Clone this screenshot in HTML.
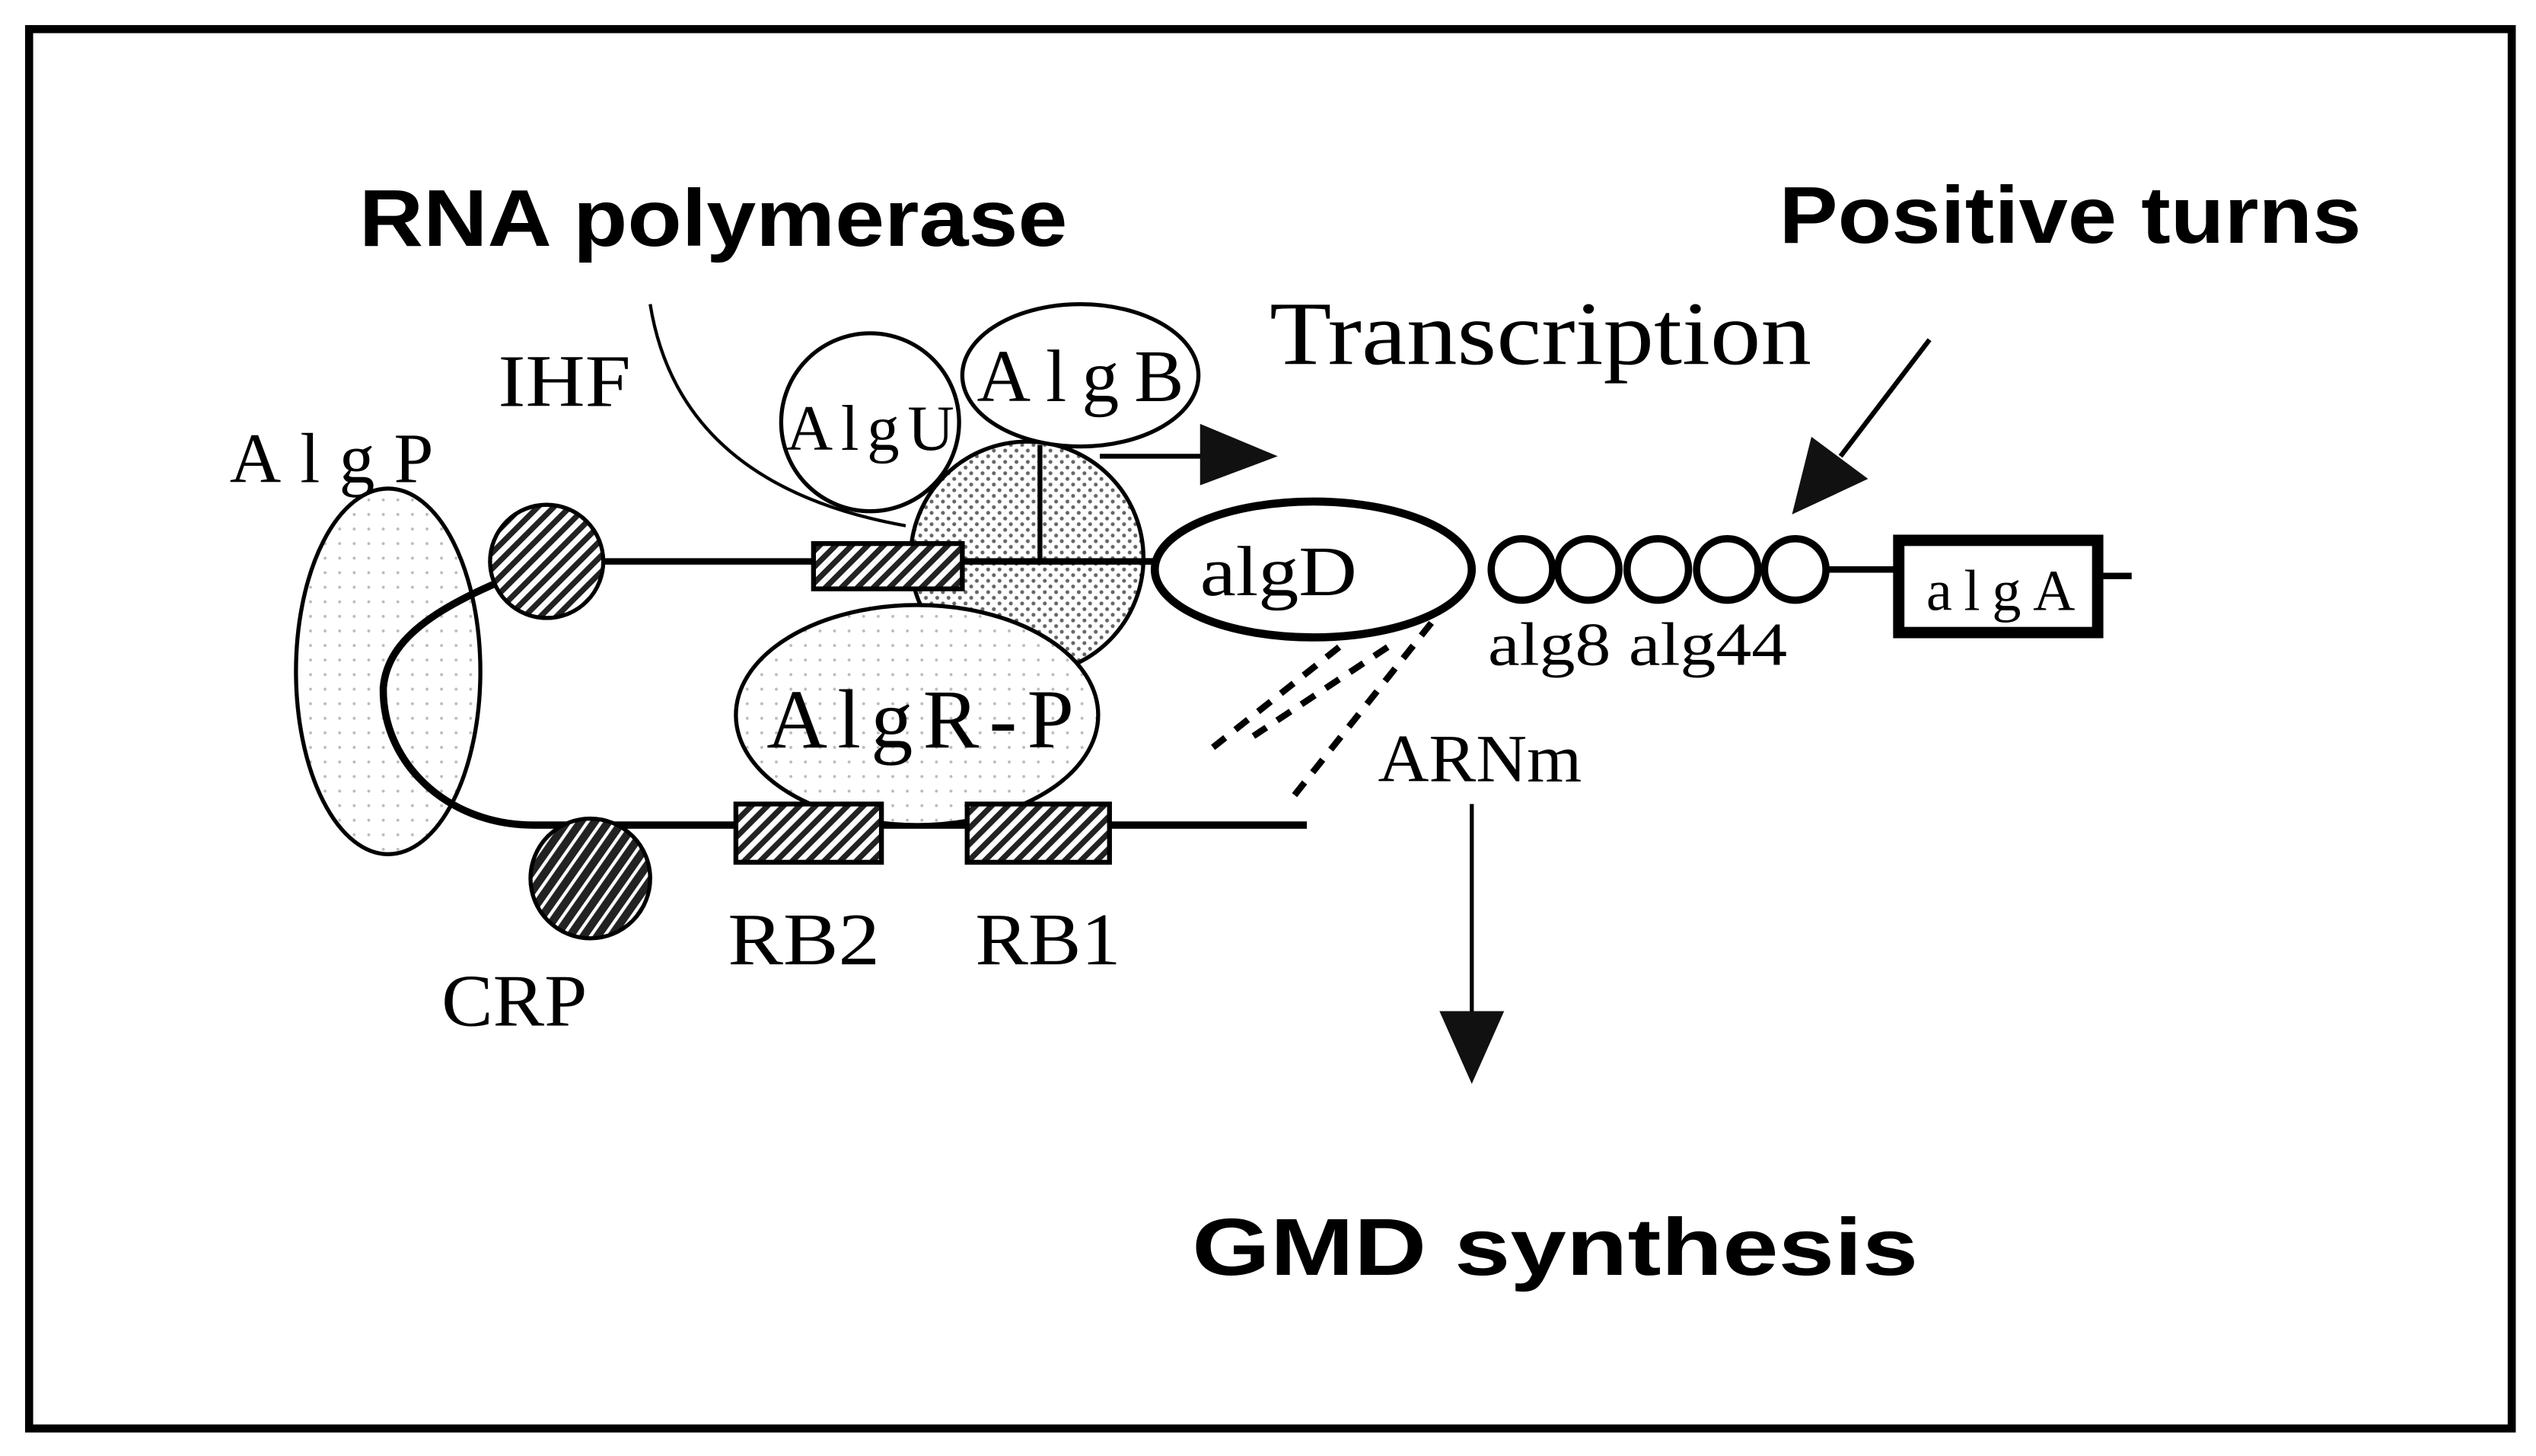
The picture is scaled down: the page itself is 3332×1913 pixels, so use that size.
<!DOCTYPE html>
<html><head><meta charset="utf-8"><style>
html,body{margin:0;padding:0;background:#fff;}
svg{display:block;}
</style></head><body>
<svg width="3332" height="1913" viewBox="0 0 1568 900" preserveAspectRatio="none" xmlns="http://www.w3.org/2000/svg">
<defs>
<pattern id="dots" width="7" height="7" patternUnits="userSpaceOnUse">
<rect width="7" height="7" fill="#fff"/><circle cx="2" cy="2" r="1.2" fill="#666"/><circle cx="5.5" cy="5.5" r="1.2" fill="#666"/>
</pattern>
<pattern id="ldots" width="9" height="9" patternUnits="userSpaceOnUse">
<rect width="9" height="9" fill="#fff"/><circle cx="3" cy="3" r="0.9" fill="#bbb"/>
</pattern>
<pattern id="hatch" width="7" height="7" patternUnits="userSpaceOnUse" patternTransform="rotate(-45)">
<rect width="7" height="7" fill="#fff"/><rect width="7" height="3.5" fill="#222"/>
</pattern>
<pattern id="dhatch" width="7" height="7" patternUnits="userSpaceOnUse" patternTransform="rotate(-55)">
<rect width="7" height="7" fill="#222"/><rect width="7" height="2" fill="#fff"/>
</pattern>
</defs>
<rect x="0" y="0" width="1568" height="900" fill="#fff"/>
<rect x="18" y="18" width="1535" height="865" fill="none" stroke="#000" stroke-width="5"/>

<g font-family="'Liberation Sans',Arial,sans-serif" font-weight="bold" font-size="50" fill="#000">
<text x="222" y="152" textLength="438" lengthAdjust="spacingAndGlyphs">RNA polymerase</text>
<text x="1100" y="150" textLength="360" lengthAdjust="spacingAndGlyphs">Positive turns</text>
<text x="737" y="788" textLength="449" lengthAdjust="spacingAndGlyphs">GMD synthesis</text>
</g>

<path d="M402,188 Q420,300 560,325" fill="none" stroke="#000" stroke-width="2"/>

<ellipse cx="240" cy="415" rx="57" ry="113" fill="url(#ldots)" stroke="#000" stroke-width="2.5"/>

<path d="M340,347 C280,370 240,390 237,425 C236,470 275,510 330,510 L808,510" fill="none" stroke="#000" stroke-width="4.5"/>
<line x1="372" y1="347" x2="720" y2="347" stroke="#000" stroke-width="4"/>

<circle cx="635" cy="345" r="72" fill="url(#dots)" stroke="#000" stroke-width="2.5"/>
<line x1="643" y1="275" x2="643" y2="347" stroke="#000" stroke-width="3"/>
<line x1="563" y1="347" x2="715" y2="347" stroke="#000" stroke-width="4"/>
<ellipse cx="567" cy="442" rx="112" ry="68" fill="url(#ldots)" stroke="#000" stroke-width="2.5"/>

<rect x="503" y="336" width="92" height="28" fill="url(#hatch)" stroke="#000" stroke-width="3"/>
<circle cx="338" cy="347" r="35" fill="url(#hatch)" stroke="#000" stroke-width="2.5"/>

<rect x="455" y="497" width="90" height="36" fill="url(#hatch)" stroke="#000" stroke-width="3"/>
<rect x="598" y="497" width="88" height="36" fill="url(#hatch)" stroke="#000" stroke-width="3"/>

<circle cx="365" cy="543" r="37" fill="url(#dhatch)" stroke="#000" stroke-width="2.5"/>

<circle cx="538" cy="261" r="55" fill="#fff" stroke="#000" stroke-width="2.5"/>
<ellipse cx="668" cy="232" rx="73" ry="44" fill="#fff" stroke="#000" stroke-width="2.5"/>

<line x1="680" y1="282" x2="750" y2="282" stroke="#000" stroke-width="3"/>
<polygon points="742,262 790,282 742,300" fill="#111"/>

<ellipse cx="812" cy="352" rx="98" ry="42" fill="#fff" stroke="#000" stroke-width="5"/>

<g fill="#fff" stroke="#000" stroke-width="4.5">
<circle cx="941" cy="352" r="19"/><circle cx="982" cy="352" r="19"/><circle cx="1025" cy="352" r="19"/><circle cx="1068" cy="352" r="19"/><circle cx="1110" cy="352" r="19"/>
</g>
<line x1="1130" y1="352" x2="1172" y2="352" stroke="#000" stroke-width="4"/>
<rect x="1174" y="334" width="123" height="57" fill="#fff" stroke="#000" stroke-width="7"/>
<line x1="1297" y1="356" x2="1318" y2="356" stroke="#000" stroke-width="4"/>

<g stroke="#000" stroke-width="4" stroke-dasharray="10,8" fill="none">
<line x1="828" y1="400" x2="750" y2="462"/>
<line x1="858" y1="400" x2="775" y2="455" />
<line x1="885" y1="385" x2="800" y2="492"/>
</g>

<line x1="910" y1="497" x2="910" y2="635" stroke="#000" stroke-width="2.5"/>
<polygon points="890,625 930,625 910,670" fill="#111"/>

<line x1="1193" y1="210" x2="1138" y2="282" stroke="#000" stroke-width="3"/>
<polygon points="1120,270 1155,296 1108,318" fill="#111"/>

<g font-family="'Liberation Serif','Times New Roman',serif" fill="#000">
<text x="785" y="225" font-size="56" textLength="335" lengthAdjust="spacingAndGlyphs">Transcription</text>
<text x="308" y="251" font-size="46" textLength="82" lengthAdjust="spacingAndGlyphs">IHF</text>
<text x="142" y="298" font-size="44" textLength="126" lengthAdjust="spacing">AlgP</text>
<text x="486" y="278" font-size="40" textLength="104" lengthAdjust="spacing">AlgU</text>
<text x="604" y="248" font-size="46" textLength="128" lengthAdjust="spacing">AlgB</text>
<text x="474" y="462" font-size="52" textLength="190" lengthAdjust="spacing">AlgR-P</text>
<text x="742" y="368" font-size="44" textLength="97" lengthAdjust="spacingAndGlyphs">algD</text>
<text x="920" y="411" font-size="38" textLength="185" lengthAdjust="spacingAndGlyphs">alg8 alg44</text>
<text x="1191" y="377" font-size="36" textLength="92" lengthAdjust="spacing">algA</text>
<text x="852" y="483" font-size="42" textLength="126" lengthAdjust="spacingAndGlyphs">ARNm</text>
<text x="450" y="596" font-size="46" textLength="94" lengthAdjust="spacingAndGlyphs">RB2</text>
<text x="603" y="596" font-size="46" textLength="90" lengthAdjust="spacingAndGlyphs">RB1</text>
<text x="273" y="634" font-size="46" textLength="90" lengthAdjust="spacingAndGlyphs">CRP</text>
</g>
</svg>
</body></html>
